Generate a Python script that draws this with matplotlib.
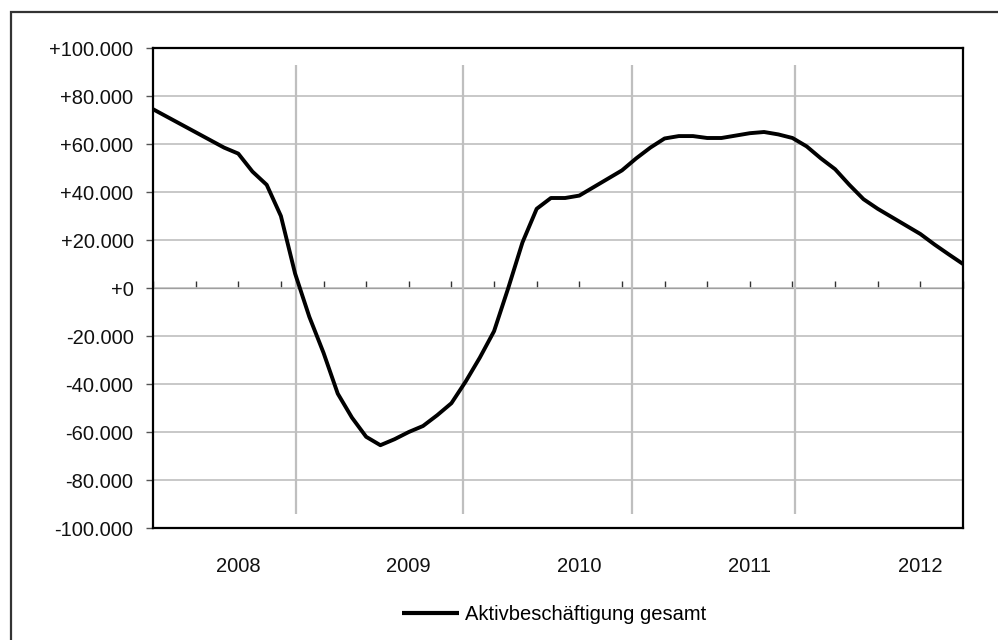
import matplotlib
matplotlib.use("Agg")
import matplotlib.pyplot as plt
from matplotlib.patches import Rectangle
from matplotlib.ticker import FuncFormatter
import numpy as np

plt.rcParams['font.family'] = ['Liberation Sans', 'DejaVu Sans']

# Monthly change in active employment (persons), Jan 2008 onwards
values = [
    74.5, 71.3, 68.1, 64.9, 61.7, 58.5, 56.0, 48.5, 43.0, 30.0,
    6.0, -12.0, -27.0, -44.0, -54.0, -62.0, -65.5, -63.0, -60.0, -57.5,
    -53.0, -48.0, -39.0, -29.0, -18.0, 0.0, 19.0, 33.0, 37.5, 37.5,
    38.5, 42.0, 45.5, 49.0, 54.0, 58.5, 62.3, 63.3, 63.3, 62.5,
    62.5, 63.5, 64.5, 65.0, 64.0, 62.5, 59.0, 54.0, 49.5, 43.0,
    37.0, 33.0, 29.5, 26.0, 22.5, 18.1, 14.0, 10.0,
]
values = [v * 1000 for v in values]
months = np.arange(len(values))

year_labels = ["2008", "2009", "2010", "2011", "2012"]
year_label_months = [6, 18, 30, 42, 54]
quarter_ticks = np.arange(0, len(values), 3)
marker_months = [10.06, 21.8, 33.7, 45.2]
marker_span = (-94000, 93000)
series_name = "Aktivbeschäftigung gesamt"

fig = plt.figure(figsize=(9.98, 6.4), dpi=100)
ax = fig.add_axes([153 / 998, 1 - 528 / 640, 810 / 998, 480 / 640])

ax.set_xlim(0, len(values) - 1)
ax.set_ylim(-100000, 100000)

# horizontal grid
ax.set_yticks(np.arange(-100000, 100001, 20000))
ax.yaxis.grid(True, color="#bfbfbf", lw=1.2)
ax.set_axisbelow(True)

def fmt(v, pos):
    v = int(round(v))
    s = f"{abs(v):,}".replace(",", ".")
    if v >= 0:
        return "+" + s
    return "-" + s

ax.yaxis.set_major_formatter(FuncFormatter(fmt))
ax.tick_params(axis="y", direction="out", length=5, width=1, color="#555555",
               pad=9, labelsize=14.5, labelcolor="#111111")

# year labels along the bottom
ax.set_xticks(year_label_months)
ax.set_xticklabels(year_labels)
ax.tick_params(axis="x", length=0, pad=21, labelsize=14.5, labelcolor="#111111")

# vertical year markers
ax.vlines(marker_months, marker_span[0], marker_span[1], color="#bfbfbf", lw=1.6, zorder=1)

# zero axis with quarterly ticks
zax = ax.secondary_xaxis(0.5)
zax.set_xticks(quarter_ticks)
zax.set_xticklabels([])
zax.tick_params(axis="x", direction="out", length=5, width=1, color="#333333")
zax.spines["bottom"].set_color("#333333")
zax.spines["bottom"].set_linewidth(1.1)

for s in ax.spines.values():
    s.set_color("black")
    s.set_linewidth(1.6)

ax.plot(months, values, color="black", lw=2.8, solid_joinstyle="round",
        solid_capstyle="butt", zorder=3, label=series_name)

leg = fig.legend(loc="center", bbox_to_anchor=(0.555, 1 - 615 / 640),
                 frameon=False, fontsize=14.5, handlelength=2.85,
                 handletextpad=0.3)
for line in leg.get_lines():
    line.set_linewidth(3)

# outer chart frame (runs off the right and bottom edges)
frame_left = 11 / 998
frame_top = 1 - 12 / 640
fig.patches.append(Rectangle((frame_left, -0.2), 1.2, frame_top + 0.2,
                             transform=fig.transFigure, fill=False,
                             edgecolor="#333333", lw=1.6))

fig.savefig("out.png", dpi=100)
